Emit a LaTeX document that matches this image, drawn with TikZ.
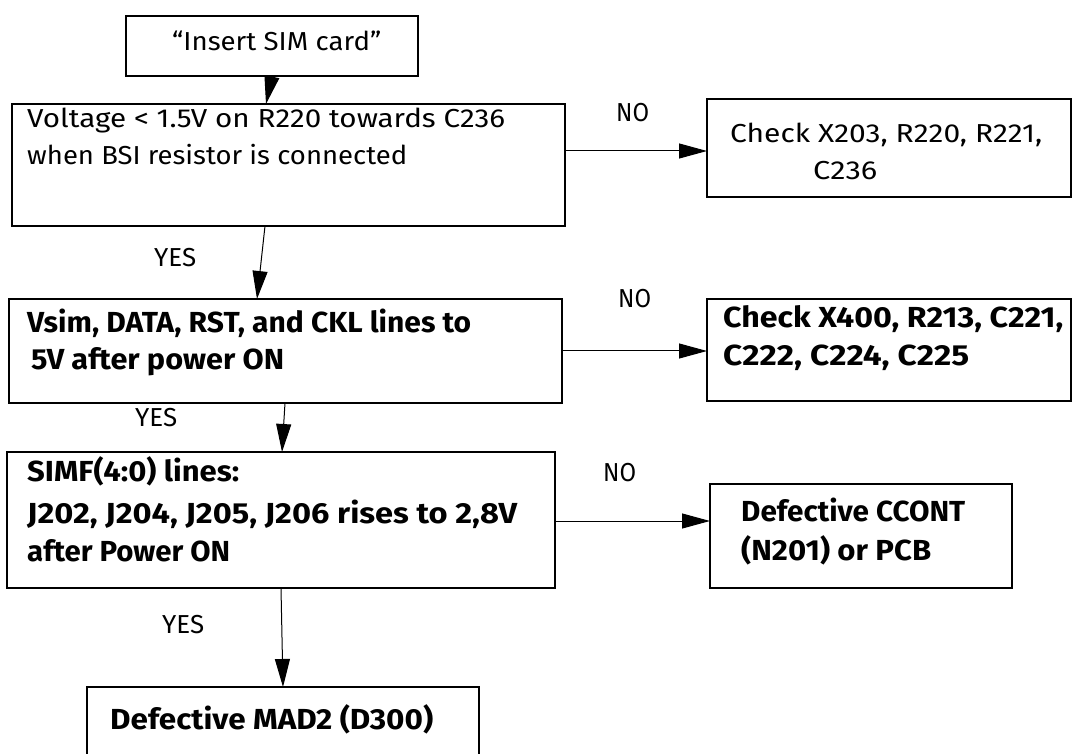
\documentclass[tikz,border=0pt]{standalone}
\usepackage{fontspec}
\usepackage{graphicx}
\setmainfont{Fira Sans}
\usetikzlibrary{arrows.meta,calc}
% set a line to a given width, keeping its height
\newcommand\linew[2]{\resizebox{#1pt}{\height}{#2}}
\tikzset{
  box/.style={draw, line width=1.6pt, inner sep=0pt, outer sep=0pt},
  txt/.style={inner sep=0pt, anchor=base west, font=\fontsize{26}{31}\selectfont},
  btxt/.style={inner sep=0pt, anchor=base west, font=\fontsize{29}{35}\selectfont\bfseries},
  flow/.style={line width=1pt, -{Triangle[length=28pt,width=15pt]}},
}
\begin{document}
\begin{tikzpicture}[x=1pt,y=-1pt]
\useasboundingbox (0,0) rectangle (1072,754);
\clip (0,0) rectangle (1072,754);

% boxes
\node[box, minimum width=292, minimum height=60]  (b1) at (272,46) {};
\node[box, minimum width=553, minimum height=122] (b2) at (288.5,165) {};
\node[box, minimum width=364, minimum height=98]  (b3) at (889,148) {};
\node[box, minimum width=553, minimum height=104] (b4) at (285.5,351) {};
\node[box, minimum width=364, minimum height=102] (b5) at (889,350) {};
\node[box, minimum width=548, minimum height=136] (b6) at (281,520) {};
\node[box, minimum width=302, minimum height=104] (b7) at (861,536) {};
\node[box, minimum width=392, minimum height=83]  (b8) at (283,728.5) {};

% box texts
\node[txt] (t1) at (172,51) {\linew{209}{“Insert SIM card”}};
\node[txt] (t2a) at (27,128) {\linew{478}{Voltage < 1.5V on R220 towards C236}};
\node[txt] (t2b) at (27,165) {\linew{380}{when BSI resistor is connected}};
\node[txt] (t3a) at (730,143) {\linew{312}{Check X203, R220, R221,}};
\node[txt] (t3b) at (813,180) {\linew{64}{C236}};
\node[btxt] (t4a) at (27,332) {\linew{444}{Vsim, DATA, RST, and CKL lines to}};
\node[btxt] (t4b) at (31,370) {\linew{253}{5V after power ON}};
\node[btxt] (t5a) at (723,327) {\linew{340}{Check X400, R213, C221,}};
\node[btxt] (t5b) at (723,366) {\linew{246}{C222, C224, C225}};
\node[btxt] (t6a) at (27,481) {\linew{212}{SIMF(4:0) lines:}};
\node[btxt] (t6b) at (27,523) {\linew{490}{J202, J204, J205, J206 rises to 2,8V}};
\node[btxt] (t6c) at (27,561) {\linew{203}{after Power ON}};
\node[btxt] (t7a) at (741,521) {\linew{224}{Defective CCONT}};
\node[btxt] (t7b) at (741,560) {\linew{190}{(N201) or PCB}};
\node[btxt] (t8) at (110,729) {\linew{323}{Defective MAD2 (D300)}};

% branch labels
\node[txt] (no1) at (616,122) {\linew{33}{NO}};
\node[txt] (no2) at (618,308) {\linew{33}{NO}};
\node[txt] (no3) at (603,481) {\linew{33}{NO}};
\node[txt] (yes1) at (154,267) {\linew{42}{YES}};
\node[txt] (yes2) at (135,427) {\linew{42}{YES}};
\node[txt] (yes3) at (162,633) {\linew{42}{YES}};

% YES path
\draw[flow] ($(b1.south west)+(146,0)$) -- ($(b2.north west)+(254,0)$);
\draw[flow] ($(b2.south west)+(253,0)$) -- ($(b4.north west)+(248,0)$);
\draw[flow] ($(b4.south west)+(276,0)$) -- ($(b6.north west)+(275,0)$);
\draw[flow] ($(b6.south west)+(274,0)$) -- ($(b8.north west)+(196,0)$);

% NO branches
\draw[flow] ($(b2.north east)+(0,47)$) -- ($(b3.north west)+(0,52)$);
\draw[flow] ($(b4.north east)+(0,52)$) -- ($(b5.north west)+(0,52)$);
\draw[flow] ($(b6.north east)+(0,69)$) -- ($(b7.north west)+(0,37)$);
\end{tikzpicture}
\end{document}
